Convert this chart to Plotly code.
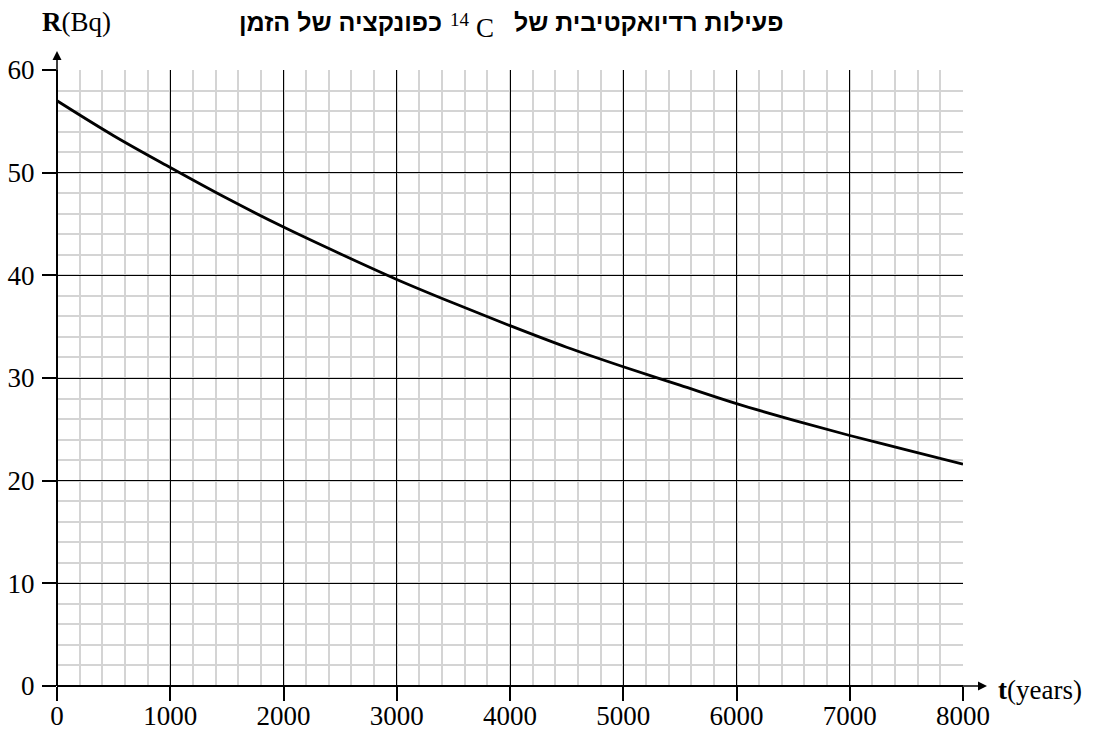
import plotly.graph_objects as go

# Data
t_years = [0, 500, 1000, 1500, 2000, 2500, 3000, 3500, 4000, 4500, 5000, 5500, 6000, 6500, 7000, 7500, 8000]
r_bq = [57.0, 53.6, 50.5, 47.5, 44.7, 42.1, 39.6, 37.3, 35.1, 33.0, 31.1, 29.3, 27.5, 25.9, 24.4, 23.0, 21.6]
x_ticks = [0, 1000, 2000, 3000, 4000, 5000, 6000, 7000, 8000]
y_ticks = [0, 10, 20, 30, 40, 50, 60]

W, H = 1093, 730
L, T = 57, 70
R = W - 963
B = H - 686
PW, PH = W - L - R, H - T - B

def px(xs):
    return (xs - L) / PW

def py(ys):
    return (H - B - ys) / PH

serif = "Liberation Serif, Times New Roman, serif"
heb = "Liberation Sans, DejaVu Sans, Arial, sans-serif"

fig = go.Figure()
fig.add_trace(go.Scatter(x=t_years, y=r_bq, mode="lines", line=dict(color="black", width=2.8, shape="spline"),
                         hoverinfo="skip", showlegend=False))

fig.update_xaxes(range=[0, 8000], tickvals=x_ticks, ticktext=[str(v) for v in x_ticks],
                 showgrid=True, gridcolor="black", gridwidth=1,
                 minor=dict(dtick=200, showgrid=True, gridcolor="#d4d4d4", gridwidth=1.5),
                 ticks="outside", ticklen=14, tickcolor="black", tickwidth=1.5,
                 showline=False, zeroline=True, zerolinecolor="black", zerolinewidth=2,
                 tickfont=dict(family=serif, size=27, color="black"), ticklabelstandoff=-8,
                 automargin=False)
fig.update_yaxes(range=[0, 60], tickvals=y_ticks, ticktext=[str(v) for v in y_ticks],
                 showgrid=True, gridcolor="black", gridwidth=1,
                 minor=dict(dtick=2, showgrid=True, gridcolor="#d4d4d4", gridwidth=1.5),
                 ticks="outside", ticklen=14, tickcolor="black", tickwidth=1.5,
                 showline=False, zeroline=True, zerolinecolor="black", zerolinewidth=2,
                 tickfont=dict(family=serif, size=27, color="black"), ticklabelstandoff=2,
                 automargin=False)

annotations = [
    # axis arrows
    dict(x=px(987), y=0, xref="paper", yref="paper", ax=-26, ay=0, axref="pixel", ayref="pixel",
         text="", showarrow=True, arrowhead=2, arrowsize=1.2, arrowwidth=1.5, arrowcolor="black"),
    dict(x=0, y=py(51), xref="paper", yref="paper", ax=0, ay=21, axref="pixel", ayref="pixel",
         text="", showarrow=True, arrowhead=2, arrowsize=1.2, arrowwidth=1.5, arrowcolor="black"),
    # axis labels
    dict(x=px(40), y=py(22), xref="paper", yref="paper", xanchor="left", yanchor="middle",
         text="<b>R</b>(Bq)", showarrow=False, font=dict(family=serif, size=27, color="black")),
    dict(x=px(996), y=py(690), xref="paper", yref="paper", xanchor="left", yanchor="middle",
         text="<b>t</b>(years)", showarrow=False, font=dict(family=serif, size=27, color="black")),
    # title pieces (Hebrew right-to-left)
    dict(x=px(786), y=py(22), xref="paper", yref="paper", xanchor="right", yanchor="middle",
         text="<b>פעילות רדיואקטיבית של</b>", showarrow=False, font=dict(family=heb, size=25, color="black")),
    dict(x=px(448), y=py(20), xref="paper", yref="paper", xanchor="left", yanchor="middle",
         text="14", showarrow=False, font=dict(family=serif, size=19, color="black")),
    dict(x=px(474), y=py(28), xref="paper", yref="paper", xanchor="left", yanchor="middle",
         text="C", showarrow=False, font=dict(family=serif, size=27, color="black")),
    dict(x=px(444), y=py(22), xref="paper", yref="paper", xanchor="right", yanchor="middle",
         text="<b>כפונקציה של הזמן</b>", showarrow=False, font=dict(family=heb, size=25, color="black")),
]

fig.update_layout(width=W, height=H, margin=dict(l=L, r=R, t=T, b=B),
                  paper_bgcolor="white", plot_bgcolor="white", annotations=annotations)

fig.write_html("out.html", config={"displayModeBar": False},
               post_script="document.body.style.margin='0';document.body.style.padding='0';")
